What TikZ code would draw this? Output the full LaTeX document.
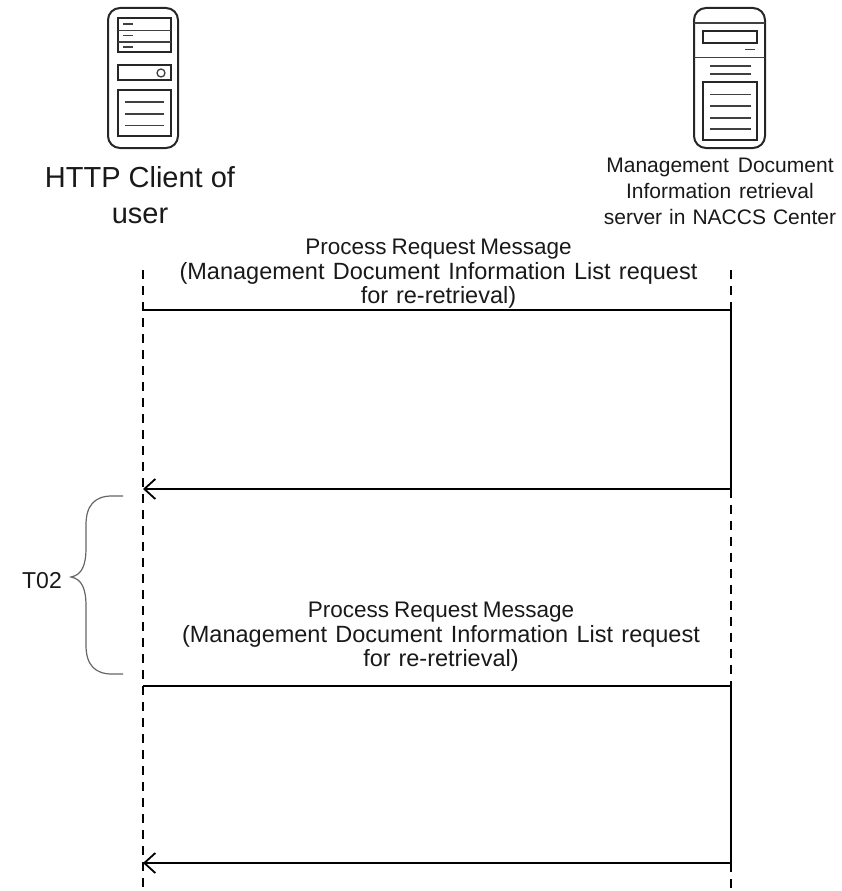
\documentclass[tikz,border=0pt]{standalone}
\usepackage{fontspec}
\setmainfont{Liberation Sans}
\usetikzlibrary{arrows.meta}
\newcommand\wsp[2]{{\spaceskip=#1pt\relax #2}}
\newcommand\lineA[1]{{\fontsize{22.5}{24.5}\selectfont\spaceskip=5pt\relax #1}}
\newcommand\lineB[1]{{\fontsize{23.5}{24.5}\selectfont\spaceskip=8.3pt\relax #1}}
\newcommand\lineC[1]{{\fontsize{23.5}{24.5}\selectfont #1}}
\tikzset{
  icon/.style={line width=2pt,draw=black!85},
  thin line/.style={line width=1.3pt,draw=black!75},
  life/.style={line width=1.8pt,dash pattern=on 9pt off 7pt,draw=black},
  solidlife/.style={line width=1.8pt,draw=black},
  msg/.style={line width=1.8pt,draw=black},
  barb/.style={-{Straight Barb[length=11pt,width=20pt,line width=1.8pt]}},
  label/.style={align=center,inner sep=0pt,text=black!90},
  big/.style={label,font=\fontsize{29}{36}\selectfont},
  mid/.style={label,font=\fontsize{23.5}{24.5}\selectfont},
  small/.style={label,font=\fontsize{21}{26}\selectfont},
}
\begin{document}
\begin{tikzpicture}[x=1pt,y=-1pt]
\useasboundingbox (0,0) rectangle (842,891);
% client icon
\draw[icon,rounded corners=12pt] (108,8) rectangle (178,148);
\draw[icon] (118,18) rectangle (171,52);
\draw[thin line] (118,30.5) -- (171,30.5) (118,42) -- (171,42);
\draw[thin line] (123,24) -- (133,24) (123,35.5) -- (133,35.5) (123,47) -- (133,47);
\draw[icon] (118,65) rectangle (171,80);
\draw[thin line] (161,73) circle (4);
\draw[icon] (118,90) rectangle (171,136);
\draw[thin line] (125,102) -- (164,102) (125,114) -- (164,114) (125,125.5) -- (164,125.5);
% server icon
\draw[icon,rounded corners=12pt] (694,8) rectangle (765,148);
\draw[thin line] (694,23) -- (765,23) (694,57.5) -- (765,57.5);
\draw[icon] (703,31) rectangle (757,43);
\draw[thin line] (745,49.5) -- (755,49.5);
\draw[thin line] (710,66) -- (751,66) (710,74) -- (751,74);
\draw[icon] (703,82) rectangle (757,140);
\draw[thin line] (710,94.5) -- (751,94.5) (710,106) -- (751,106) (710,118) -- (751,118) (710,129) -- (751,129);
% titles
\node[big] (client) at (140,195) {HTTP Client of\\user};
\node[small] (server) at (720,191) {\wsp{9}{Management Document}\\\wsp{8}{Information retrieval}\\\wsp{7}{server in NACCS Center}};
% lifeline anchors
\coordinate (L0) at (143,270);
\coordinate (L1) at (143,310);
\coordinate (L2) at (143,489);
\coordinate (L3) at (143,686);
\coordinate (L4) at (143,863);
\coordinate (L5) at (143,891);
\coordinate (R0) at (731,270);
\coordinate (R1) at (731,310);
\coordinate (R2) at (731,489);
\coordinate (R3) at (731,686);
\coordinate (R4) at (731,863);
\coordinate (R5) at (731,891);
\draw[life] (L0) -- (L5);
\draw[life] (R0) -- (R1);
\draw[solidlife] (R1) -- (R2);
\draw[life] (R2) -- (R3);
\draw[solidlife] (R3) -- (R4);
\draw[life] (R4) -- (R5);
% messages
\draw[msg] (R1) -- (L1);
\draw[msg,barb] (R2) -- (L2);
\draw[msg] (R3) -- (L3);
\draw[msg,barb] (R4) -- (L4);
% labels
\node[mid,text width=600pt] (m1) at (438.5,274) {\lineA{Process Request Message}\\\lineB{(Management Document Information List request}\\\lineC{for re-retrieval)}};
\node[mid,text width=600pt] (m2) at (441,637) {\lineA{Process Request Message}\\\lineB{(Management Document Information List request}\\\lineC{for re-retrieval)}};
% brace
\draw[line width=1.2pt,draw=black!60] (123,496) -- (112,496) .. controls (95,496) and (86,505) .. (86,525) -- (86,548)
  .. controls (86,565) and (82,575) .. (71,577) .. controls (82,579) and (86,589) .. (86,606) -- (86,645)
  .. controls (86,665) and (95,674) .. (112,674) -- (123,674);
\node[label,font=\fontsize{23}{23}\selectfont] (t02) at (42,581) {T02};
\end{tikzpicture}
\end{document}
